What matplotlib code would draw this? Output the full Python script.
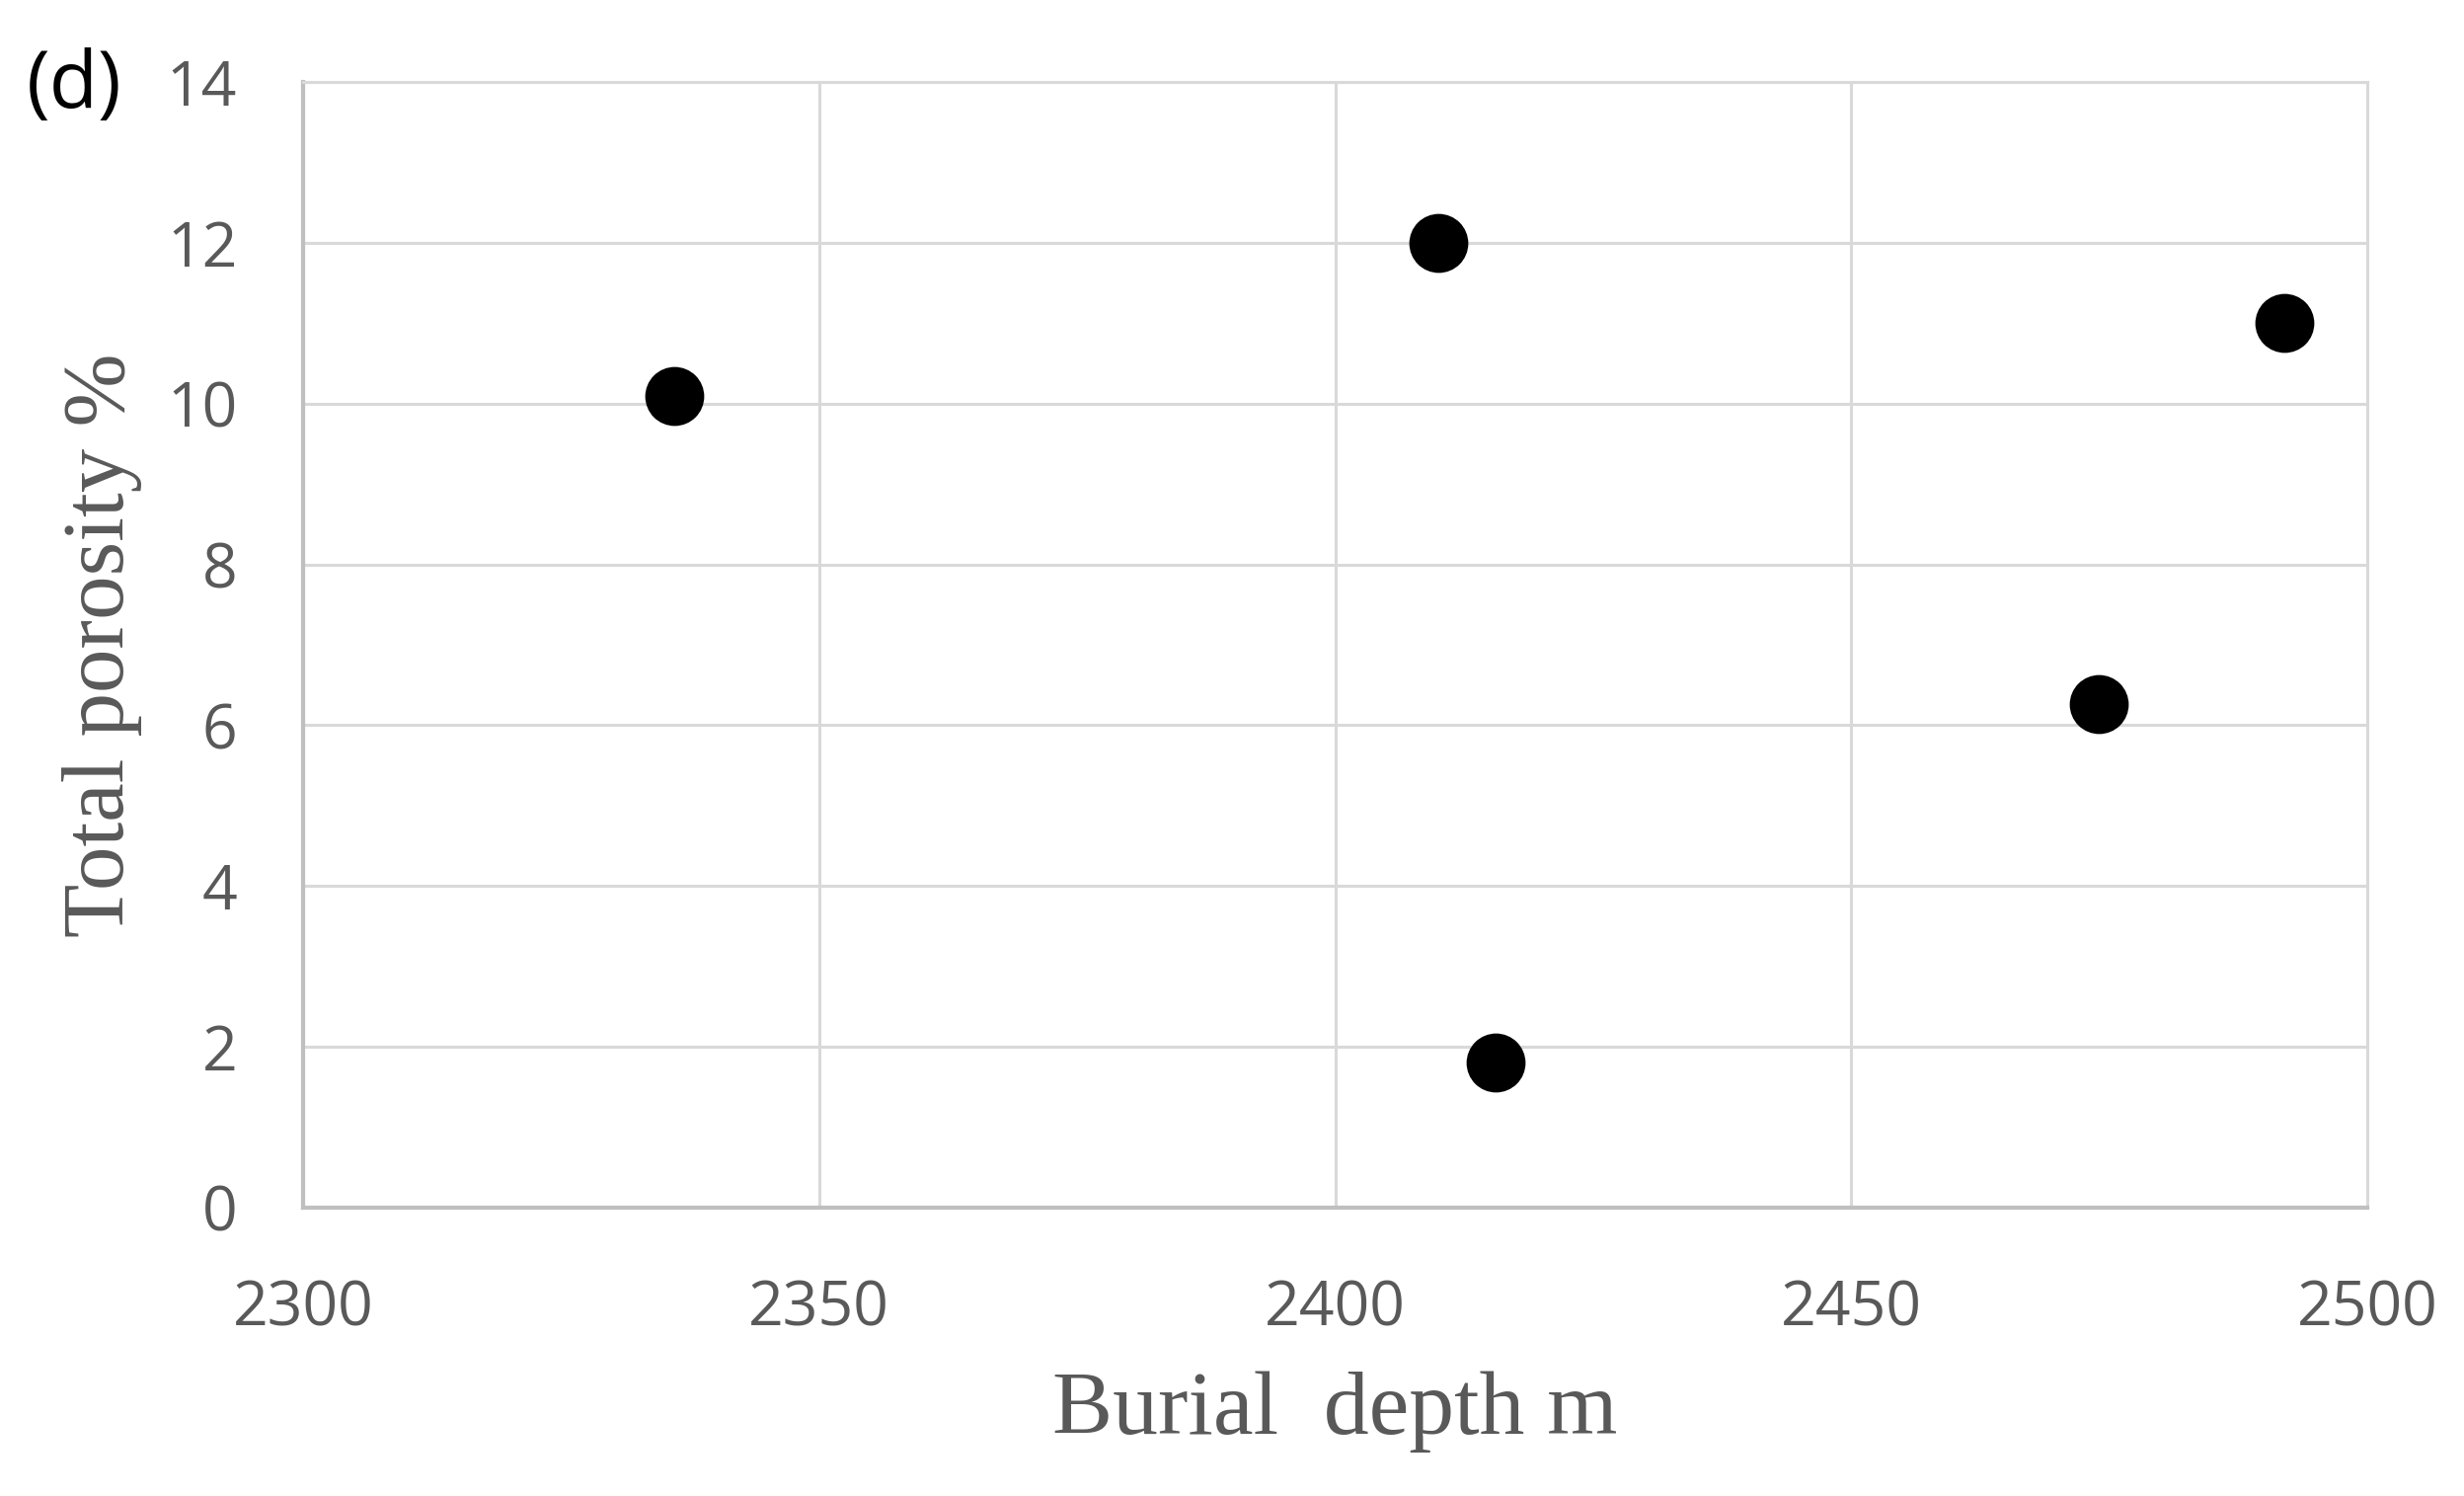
import matplotlib
matplotlib.use("Agg")
import matplotlib.pyplot as plt

depth = [2336, 2410, 2415.5, 2474, 2492]
porosity = [10.1, 12.0, 1.8, 6.26, 11.0]
x_ticks = [2300, 2350, 2400, 2450, 2500]
y_ticks = [0, 2, 4, 6, 8, 10, 12, 14]

W, H = 2496, 1515
fig = plt.figure(figsize=(W / 100, H / 100), dpi=100)
ax = fig.add_axes([307 / W, 1 - 1223 / H, (2398 - 307) / W, (1223 - 83) / H])

ax.scatter(depth, porosity, s=1850, color="black", zorder=3, linewidths=0)

ax.set_xlim(2300, 2500)
ax.set_ylim(0, 14)
ax.set_xticks(x_ticks)
ax.set_yticks(y_ticks)
ax.grid(True, color="#d9d9d9", linewidth=2.2, zorder=0)
ax.set_axisbelow(True)
for side in ["top", "right"]:
    ax.spines[side].set_color("#d9d9d9")
    ax.spines[side].set_linewidth(2.2)
for side in ["left", "bottom"]:
    ax.spines[side].set_color("#bfbfbf")
    ax.spines[side].set_linewidth(3.0)

ax.tick_params(length=0, colors="#595959", labelsize=45)
ax.tick_params(axis="y", pad=48)
ax.tick_params(axis="x", pad=52)
for lab in ax.get_xticklabels() + ax.get_yticklabels():
    lab.set_fontfamily(["Open Sans", "DejaVu Sans"])

ax.set_xlabel("Burial  depth m", family="Liberation Serif", size=66, color="#595959", labelpad=22)
ax.set_ylabel("Total porosity %", family="Liberation Serif", size=64, color="#595959", labelpad=18)

fig.text(75 / W, 1 - 88 / H, "(d)", family=["Open Sans", "DejaVu Sans"], size=58,
         color="black", ha="center", va="center")

fig.savefig("out.png", dpi=100, facecolor="white")
